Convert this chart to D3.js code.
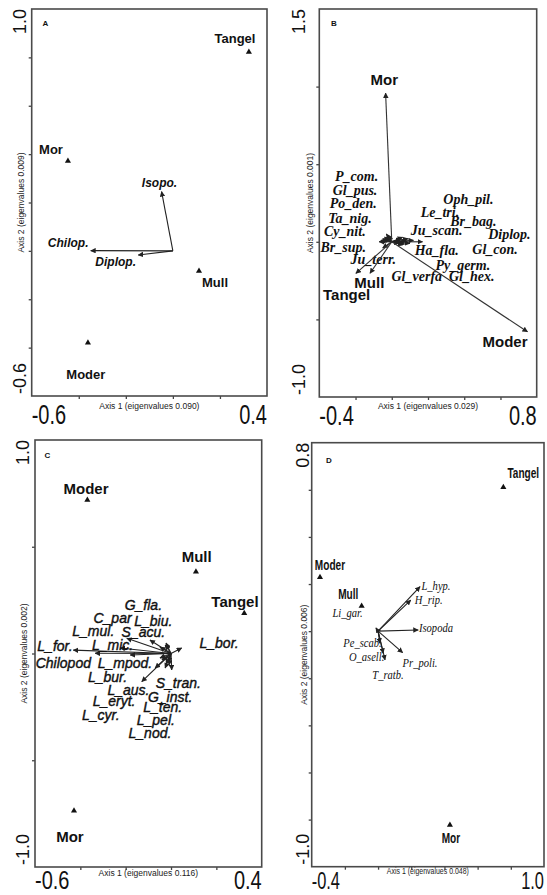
<!DOCTYPE html>
<html>
<head>
<meta charset="utf-8">
<script src="https://cdn.jsdelivr.net/npm/d3@7"></script>
<style>
  html, body { margin: 0; padding: 0; background: #fff; }
  svg { display: block; }
</style>
</head>
<body>
<svg id="fig" width="547" height="895"></svg>
<script>
// ---------------- data ----------------
// Panel A: soil fauna groups vs humus forms
const aSiteNames = ["Tangel", "Mor", "Mull", "Moder"];
const aSiteX = [0.323, -0.446, 0.111, -0.361];
const aSiteY = [0.822, 0.372, -0.083, -0.380];
const aSpeciesNames = ["Isopo.", "Chilop.", "Diplop."];
const aSpeciesX = [-0.048, -0.349, -0.147];
const aSpeciesY = [0.245, 0.001, -0.017];

// Panel B: diplopod species, humus forms as arrows
const bSiteNames = ["Mor", "Moder", "Mull", "Tangel"];
const bSiteX = [-0.034, 0.749, -0.120, -0.198];
const bSiteY = [0.958, -0.580, -0.203, -0.203];
const bSpeciesNames = ["P_com.", "Gl_pus.", "Po_den.", "Ta_nig.", "Cy_nit.", "Br_sup.", "Ju_terr.",
  "Oph_pil.", "Le_tri.", "Br_bag.", "Ju_scan.", "Diplop.", "Ha_fla.", "Gl_con.", "Py_germ.", "Gl_verfa", "Gl_hex."];
const bSpeciesX = [-0.03, -0.02, -0.04, -0.05, -0.06, -0.07, -0.05,
  0.06, 0.05, 0.09, 0.12, 0.17, 0.10, 0.08, 0.06, 0.04, 0.07];
const bSpeciesY = [0.05, 0.04, 0.03, 0.02, 0.01, 0.00, -0.04,
  0.03, 0.02, 0.02, 0.01, 0.00, -0.01, 0.005, -0.02, -0.01, -0.015];

// Panel C: chilopod species
const cSiteNames = ["Moder", "Mull", "Tangel", "Mor"];
const cSiteX = [-0.369, 0.110, 0.323, -0.428];
const cSiteY = [0.719, 0.383, 0.188, -0.736];
const cSpeciesNames = ["G_fla.", "C_par", "L_biu.", "L_mul.", "S_acu.", "L_for.", "L_mic.", "Chilopod",
  "L_mpod.", "L_bur.", "S_tran.", "L_aus.", "G_inst.", "L_eryt.", "L_ten.", "L_cyr.", "L_pel.", "L_nod.", "L_bor."];
const cSpeciesX = [-0.026, -0.049, -0.022, -0.093, -0.195, -0.431, -0.225, -0.335,
  -0.180, -0.129, 0.003, -0.070, -0.026, -0.040, -0.013, -0.049, -0.009, -0.022, 0.047];
const cSpeciesY = [0.040, 0.030, 0.049, 0.063, 0.071, 0.016, 0.026, 0.001,
  -0.007, -0.132, -0.077, -0.068, -0.068, -0.030, -0.040, -0.021, -0.054, -0.049, 0.026];

// Panel D: isopod species
const dSiteNames = ["Tangel", "Moder", "Mull", "Mor"];
const dSiteX = [0.755, -0.350, -0.099, 0.433];
const dSiteY = [0.611, 0.229, 0.107, -0.823];
const dSpeciesNames = ["L_hyp.", "H_rip.", "Isopoda", "Pr_poli.", "T_ratb.", "Pe_scab.", "O_asell.", "Li_gar."];
const dSpeciesX = [0.253, 0.197, 0.242, 0.148, 0.042, 0.011, 0.031, -0.013];
const dSpeciesY = [0.189, 0.132, 0.005, -0.091, -0.122, -0.051, -0.094, 0.014];

// axis end labels and titles
const panelLetters = ["A", "B", "C", "D"];
const xTickLabels = [["-0.6", "0.4"], ["-0.4", "0.8"], ["-0.6", "0.4"], ["-0.4", "1.0"]];
const yTickLabels = [["-0.6", "1.0"], ["-1.0", "1.5"], ["-1.0", "1.0"], ["-1.0", "0.8"]];
const xTitles = ["Axis 1 (eigenvalues 0.090)", "Axis 1 (eigenvalues 0.029)",
  "Axis 1 (eigenvalues 0.116)", "Axis 1 (eigenvalues 0.048)"];
const yTitles = ["Axis 2 (eigenvalues 0.009)", "Axis 2 (eigenvalues 0.001)",
  "Axis 2 (eigenvalues 0.002)", "Axis 2 (eigenvalues 0.006)"];

// ---------------- layout ----------------
const SANS = "'Liberation Sans', Arial, Helvetica, sans-serif";
const SERIF = "'Liberation Serif', 'Times New Roman', Times, serif";

// label anchors, in axis units of each panel
const labelAt = {
  A: {
    site: { "Tangel": [0.264, 0.879], "Mor": [-0.518, 0.421], "Mull": [0.179, -0.132], "Moder": [-0.370, -0.512] },
    spec: { "Isopo.": [-0.057, 0.281], "Chilop.": [-0.445, 0.032], "Diplop.": [-0.243, -0.045] }
  },
  B: {
    site: { "Mor": [-0.041, 1.048], "Moder": [0.625, -0.645], "Mull": [-0.124, -0.264], "Tangel": [-0.249, -0.337] },
    spec: {
      "P_com.": [-0.194, 0.420], "Gl_pus.": [-0.203, 0.330], "Po_den.": [-0.213, 0.244], "Ta_nig.": [-0.231, 0.152],
      "Cy_nit.": [-0.259, 0.065], "Br_sup.": [-0.268, -0.035], "Ju_terr.": [-0.102, -0.117],
      "Oph_pil.": [0.423, 0.274], "Le_tri.": [0.266, 0.188], "Br_bag.": [0.450, 0.130], "Ju_scan.": [0.248, 0.072],
      "Diplop.": [0.649, 0.044], "Ha_fla.": [0.248, -0.057], "Gl_con.": [0.570, -0.048], "Py_germ.": [0.392, -0.150],
      "Gl_verfa": [0.138, -0.221], "Gl_hex.": [0.441, -0.225]
    }
  },
  C: {
    site: { "Moder": [-0.375, 0.774], "Mull": [0.113, 0.453], "Tangel": [0.282, 0.243], "Mor": [-0.446, -0.858] },
    spec: {
      "G_fla.": [-0.122, 0.227], "C_par": [-0.258, 0.165], "L_biu.": [-0.078, 0.154], "L_mul.": [-0.343, 0.105],
      "S_acu.": [-0.122, 0.102], "L_for.": [-0.512, 0.035], "L_mic.": [-0.258, 0.040], "Chilopod": [-0.475, -0.046],
      "L_mpod.": [-0.203, -0.046], "L_bur.": [-0.280, -0.109], "S_tran.": [0.032, -0.140], "L_aus.": [-0.188, -0.171],
      "G_inst.": [-0.004, -0.202], "L_eryt.": [-0.251, -0.221], "L_ten.": [-0.037, -0.252], "L_cyr.": [-0.310, -0.288],
      "L_pel.": [-0.067, -0.311], "L_nod.": [-0.093, -0.371], "L_bor.": [0.212, 0.051]
    }
  },
  D: {
    site: { "Tangel": [0.875, 0.670], "Moder": [-0.290, 0.281], "Mull": [-0.180, 0.158], "Mor": [0.439, -0.879] },
    spec: {
      "L_hyp.": [0.349, 0.192], "H_rip.": [0.305, 0.135], "Isopoda": [0.349, 0.015], "Pr_poli.": [0.253, -0.136],
      "T_ratb.": [0.060, -0.186], "Pe_scab.": [-0.094, -0.051], "O_asell.": [-0.069, -0.108], "Li_gar.": [-0.184, 0.076]
    }
  }
};

const layout = [
  { box: [31.7, 9, 267, 396], xStep: 0.2, yStep: 0.2, siteMode: "point",
    siteFont: `bold 13px ${SANS}`, specFont: `italic bold 12px ${SANS}`, siteSx: 1, specSx: 1, specStroke: 0,
    yTickX: 25.5, yTitleX: 21, xTitleY: 406, xTickY: 424, xTickSx: 1, xTickSy: 1.4, titleSx: 1,
    letterXY: [45.5, 23] },
  { box: [319.3, 9, 536.7, 397], xStep: 0.2, yStep: 0.5, siteMode: "arrow",
    siteFont: `bold 15px ${SANS}`, specFont: `italic bold 14px ${SERIF}`, siteSx: 1, specSx: 1, specStroke: 0,
    yTickX: 305, yTitleX: 310, xTitleY: 406, xTickY: 425, xTickSx: 1, xTickSy: 1.4, titleSx: 1,
    letterXY: [334, 23] },
  { box: [35, 440, 261.7, 867], xStep: 0.2, yStep: 0.5, siteMode: "point",
    siteFont: `bold 15px ${SANS}`, specFont: `italic 14px ${SANS}`, siteSx: 1, specSx: 1, specStroke: 0.4,
    yTickX: 28.5, yTitleX: 24, xTitleY: 873, xTickY: 889, xTickSx: 1, xTickSy: 1.3, titleSx: 1,
    letterXY: [47.5, 455] },
  { box: [311.7, 442.7, 544, 866.7], xStep: 0.2, yStep: 0.2, siteMode: "point",
    siteFont: `bold 14px ${SANS}`, specFont: `italic 12px ${SERIF}`, siteSx: 0.72, specSx: 0.88, specStroke: 0,
    yTickX: 309, yTitleX: 303.5, xTitleY: 871, xTickY: 889, xTickSx: 0.82, xTickSy: 1.2, titleSx: 0.82,
    letterXY: [329, 460] }
];

const panelData = [
  { sites: [aSiteNames, aSiteX, aSiteY], spec: [aSpeciesNames, aSpeciesX, aSpeciesY] },
  { sites: [bSiteNames, bSiteX, bSiteY], spec: [bSpeciesNames, bSpeciesX, bSpeciesY] },
  { sites: [cSiteNames, cSiteX, cSiteY], spec: [cSpeciesNames, cSpeciesX, cSpeciesY] },
  { sites: [dSiteNames, dSiteX, dSiteY], spec: [dSpeciesNames, dSpeciesX, dSpeciesY] }
];

// ---------------- drawing ----------------
const svg = d3.select("#fig");
svg.append("rect").attr("width", 547).attr("height", 895).attr("fill", "#fff");

svg.append("defs").append("marker")
  .attr("id", "head").attr("viewBox", "0 0 10 10")
  .attr("refX", 9).attr("refY", 5)
  .attr("markerWidth", 5).attr("markerHeight", 5)
  .attr("orient", "auto")
  .append("path").attr("d", "M0,0L10,5L0,10Z").attr("fill", "#222");

function label(g, px, py, str, o) {
  const t = g.append("text")
    .attr("transform", `translate(${px},${py}) rotate(${o.rot || 0}) scale(${o.sx || 1},${o.sy || 1})`)
    .attr("text-anchor", o.anchor || "middle")
    .attr("dominant-baseline", o.base || "auto")
    .style("font", o.font)
    .attr("fill", o.fill || "#111")
    .text(str);
  if (o.stroke) t.attr("stroke", o.fill || "#111").attr("stroke-width", o.stroke);
}

function zip(arr) {
  return arr[0].map((n, i) => ({ name: n, x: arr[1][i], y: arr[2][i] }));
}

function interiorTicks(dom, step) {
  const n = Math.round((dom[1] - dom[0]) / step);
  return d3.range(1, n).map(k => +(dom[0] + k * step).toFixed(6));
}

panelData.forEach((pd, i) => {
  const L = layout[i];
  const key = panelLetters[i];
  const [x0, y0, x1, y1] = L.box;
  const xd = xTickLabels[i].map(Number);
  const yd = yTickLabels[i].map(Number);
  const x = d3.scaleLinear().domain(xd).range([x0, x1]);
  const y = d3.scaleLinear().domain(yd).range([y1, y0]);
  const g = svg.append("g");

  // small outward ticks on the left and bottom edges
  g.append("g").attr("transform", `translate(0,${y1})`)
    .call(d3.axisBottom(x).tickValues(interiorTicks(xd, L.xStep)).tickSize(3).tickFormat(""))
    .call(a => a.select(".domain").remove())
    .call(a => a.selectAll("line").attr("stroke", "#444").attr("stroke-width", 1.3));
  g.append("g").attr("transform", `translate(${x0},0)`)
    .call(d3.axisLeft(y).tickValues(interiorTicks(yd, L.yStep)).tickSize(3).tickFormat(""))
    .call(a => a.select(".domain").remove())
    .call(a => a.selectAll("line").attr("stroke", "#444").attr("stroke-width", 1.3));

  // frame
  g.append("rect").attr("x", x0).attr("y", y0).attr("width", x1 - x0).attr("height", y1 - y0)
    .attr("fill", "none").attr("stroke", "#4a4a4a").attr("stroke-width", 1.6);

  // end tick labels
  label(g, x0, L.xTickY, xTickLabels[i][0], { anchor: "start", font: `20px ${SANS}`, sx: L.xTickSx, sy: L.xTickSy });
  label(g, x1, L.xTickY, xTickLabels[i][1], { anchor: "end", font: `20px ${SANS}`, sx: L.xTickSx, sy: L.xTickSy });
  label(g, L.yTickX, y1 - 2, yTickLabels[i][0], { anchor: "start", rot: -90, font: `18px ${SANS}` });
  label(g, L.yTickX, y0, yTickLabels[i][1], { anchor: "end", rot: -90, font: `18px ${SANS}` });

  // axis titles
  label(g, (x0 + x1) / 2, L.xTitleY, xTitles[i], { base: "central", font: `8.5px ${SANS}`, sx: L.titleSx, fill: "#222" });
  label(g, L.yTitleX, (y0 + y1) / 2, yTitles[i], { base: "central", rot: -90, font: `8.5px ${SANS}`, fill: "#222" });

  // panel letter
  label(g, L.letterXY[0], L.letterXY[1], key, { base: "central", font: `bold 8px ${SANS}` });

  // species arrows from the origin
  const spec = zip(pd.spec);
  g.selectAll(null).data(spec).join("line")
    .attr("x1", x(0)).attr("y1", y(0))
    .attr("x2", d => x(d.x)).attr("y2", d => y(d.y))
    .attr("stroke", "#222").attr("stroke-width", 1.1)
    .attr("marker-end", "url(#head)");
  spec.forEach(d => {
    const p = labelAt[key].spec[d.name];
    label(g, x(p[0]), y(p[1]), d.name, { base: "central", font: L.specFont, sx: L.specSx, stroke: L.specStroke });
  });

  // humus forms: centroids or arrows
  const sites = zip(pd.sites);
  if (L.siteMode === "arrow") {
    g.selectAll(null).data(sites).join("line")
      .attr("x1", x(0)).attr("y1", y(0))
      .attr("x2", d => x(d.x)).attr("y2", d => y(d.y))
      .attr("stroke", "#333").attr("stroke-width", 1.1)
      .attr("marker-end", "url(#head)");
  } else {
    g.selectAll(null).data(sites).join("path")
      .attr("d", d3.symbol(d3.symbolTriangle).size(16))
      .attr("transform", d => `translate(${x(d.x)},${y(d.y)})`)
      .attr("fill", "#111");
  }
  sites.forEach(d => {
    const p = labelAt[key].site[d.name];
    label(g, x(p[0]), y(p[1]), d.name, { base: "central", font: L.siteFont, sx: L.siteSx });
  });
});
</script>
</body>
</html>
